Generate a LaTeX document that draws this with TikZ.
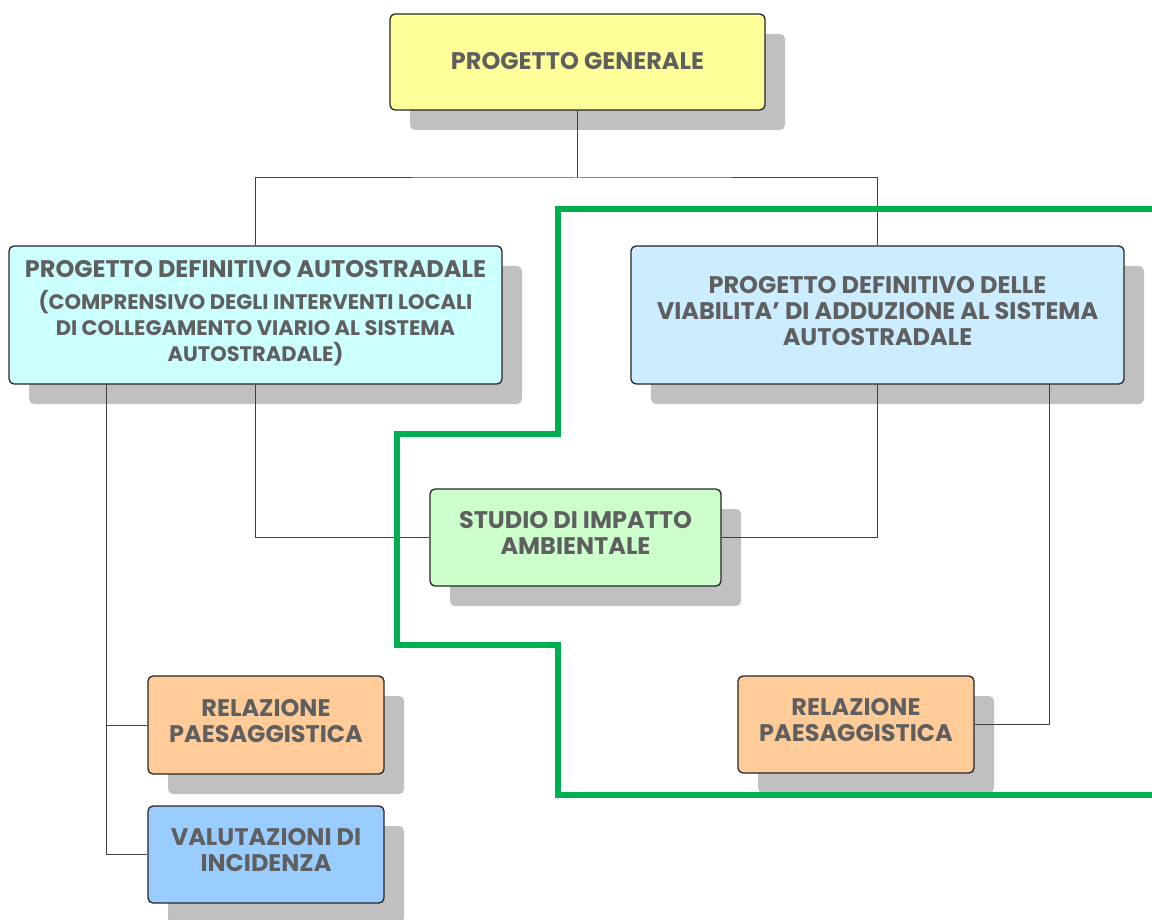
\documentclass[tikz,border=0pt]{standalone}
\usepackage{fontspec}
\setmainfont{Poppins}
\usetikzlibrary{shadows}
\definecolor{gialloBox}{HTML}{FFFF99}
\definecolor{cianoBox}{HTML}{CCFFFF}
\definecolor{azzurroBox}{HTML}{CCECFF}
\definecolor{verdeBox}{HTML}{CCFFCC}
\definecolor{aranciaBox}{HTML}{FFCC99}
\definecolor{bluBox}{HTML}{99CCFF}
\definecolor{ombra}{HTML}{C0C0C0}
\definecolor{testo}{HTML}{5F5F5F}
\definecolor{confine}{HTML}{00B050}
\newcommand{\BoxFont}{\fontsize{24}{26}\selectfont\bfseries}
\newcommand{\NotaFont}{\fontsize{21}{25}\selectfont}

\begin{document}
\begin{tikzpicture}[x=1pt,y=-1pt,
		blocco/.style={draw=black!85,line width=1.3pt,rounded corners=5pt,
			align=center,text=testo,font=\BoxFont,inner sep=0pt,text depth=9pt,
			drop shadow={shadow xshift=20pt,shadow yshift=-20pt,fill=ombra,opacity=1}},
		link/.style={draw=black!75,line width=1pt}]
				\useasboundingbox (0,0) rectangle (1152,920);
				% boxes
				\node[blocco,fill=gialloBox,minimum width=375pt,minimum height=96pt,text depth=3pt] (gen) at (577.5,62) {PROGETTO GENERALE};
				\node[blocco,fill=cianoBox,minimum width=493pt,minimum height=138pt] (autostr) at (255.5,315)
					{PROGETTO DEFINITIVO AUTOSTRADALE\\[6pt]{\NotaFont(COMPRENSIVO DEGLI INTERVENTI LOCALI}\\{\NotaFont DI COLLEGAMENTO VIARIO AL SISTEMA}\\{\NotaFont AUTOSTRADALE)}};
				\node[blocco,fill=azzurroBox,minimum width=493pt,minimum height=138pt] (viab) at (877.5,315)
					{PROGETTO DEFINITIVO DELLE\\VIABILITA’ DI ADDUZIONE AL SISTEMA\\AUTOSTRADALE};
				\node[blocco,fill=verdeBox,minimum width=291pt,minimum height=97pt] (sia) at (575.5,537.5) {STUDIO DI IMPATTO\\AMBIENTALE};
				\node[blocco,fill=aranciaBox,minimum width=236pt,minimum height=98pt] (relL) at (266,725) {RELAZIONE\\PAESAGGISTICA};
				\node[blocco,fill=bluBox,minimum width=236pt,minimum height=97pt] (vinc) at (266,854.5) {VALUTAZIONI DI\\INCIDENZA};
				\node[blocco,fill=aranciaBox,minimum width=236pt,minimum height=97pt] (relR) at (856,724.5) {RELAZIONE\\PAESAGGISTICA};
				% connectors
				\coordinate (fork) at (577.5,178);
				\coordinate (trunkL) at (106,384);
				\coordinate (trunkR) at (1049,384);
				\draw[link] (gen.south) -- (fork);
				\draw[link] (autostr.north) |- (fork) -| (viab.north);
				\draw[link] (autostr.south) |- (sia.west);
				\draw[link] (viab.south) |- (sia.east);
				\draw[link] (trunkL) |- (relL.west);
				\draw[link] (trunkL) |- (vinc.west);
				\draw[link] (trunkR) |- (relR.east);
				% green boundary
				\draw[confine,line width=5.5pt] (1160,209) -- (558,209) -- (558,434) -- (397,434) -- (397,645) -- (558,645) -- (558,795) -- (1160,795);
		\end{tikzpicture}
\end{document}
